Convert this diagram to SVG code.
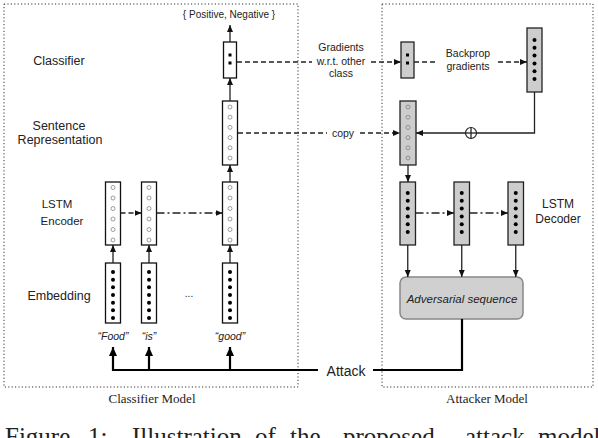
<svg xmlns="http://www.w3.org/2000/svg" width="598" height="438" viewBox="0 0 598 438">
<defs>
<style>
.t{font-family:"Liberation Sans",Arial,sans-serif;fill:#222}
.s{font-family:"Liberation Serif","Times New Roman",serif;fill:#222}
.box{fill:#fff;stroke:#111;stroke-width:1.3}
.gbox{fill:#cdcdcd;stroke:#222;stroke-width:1.3}
.oc{fill:none;stroke:#777;stroke-width:0.7}
.dot{fill:#000}
.ln{fill:none;stroke:#222;stroke-width:1.3}
.thk{fill:none;stroke:#000;stroke-width:2.2}
.dash{stroke-dasharray:5 3}
.dd{stroke-dasharray:8 3 2 3}
.frame{fill:none;stroke:#333;stroke-width:1;stroke-dasharray:1.2 2.2}
</style>
<marker id="ah" viewBox="0 0 7 6" refX="7" refY="3" markerWidth="7" markerHeight="6" markerUnits="userSpaceOnUse" orient="auto"><path d="M0,0 L7,3 L0,6 z" fill="#111"/></marker>
<marker id="ahb" viewBox="0 0 9 8" refX="9" refY="4" markerWidth="9" markerHeight="8" markerUnits="userSpaceOnUse" orient="auto"><path d="M0,0 L9,4 L0,8 z" fill="#000"/></marker>
</defs>
<rect width="598" height="438" fill="#fff"/>

<g id="frames">
<rect class="frame" x="4" y="4" width="294" height="383"/>
<rect class="frame" x="382" y="4" width="211" height="383"/>
<text class="s" x="152" y="403" font-size="13" text-anchor="middle">Classifier Model</text>
<text class="s" x="487" y="403" font-size="13" text-anchor="middle">Attacker Model</text>
</g>

<g id="labels">
<text class="t" x="59" y="65" font-size="12.5" text-anchor="middle">Classifier</text>
<text class="t" x="59" y="130" font-size="12.5" text-anchor="middle">Sentence</text>
<text class="t" x="60" y="144" font-size="12.5" text-anchor="middle">Representation</text>
<text class="t" x="57" y="208" font-size="11.5" text-anchor="middle">LSTM</text>
<text class="t" x="62" y="225" font-size="11.5" text-anchor="middle">Encoder</text>
<text class="t" x="59" y="300" font-size="12.5" text-anchor="middle">Embedding</text>
<text class="t" x="558" y="208" font-size="12" text-anchor="middle">LSTM</text>
<text class="t" x="558" y="223" font-size="12" text-anchor="middle">Decoder</text>
<text class="t" x="229" y="18" font-size="10" text-anchor="middle">{ Positive, Negative }</text>
<text class="t" x="189" y="297" font-size="10" text-anchor="middle" fill="#555">...</text>
<text class="t" x="113" y="340" font-size="10.5" font-style="italic" text-anchor="middle">“Food”</text>
<text class="t" x="149" y="340" font-size="10.5" font-style="italic" text-anchor="middle">“is”</text>
<text class="t" x="230" y="340" font-size="10.5" font-style="italic" text-anchor="middle">“good”</text>
</g>

<g id="classifier">
<rect class="box" x="223.5" y="42" width="13" height="36"/>
<rect class="dot" x="228.5" y="53.5" width="3" height="3"/>
<rect class="dot" x="228.5" y="61.5" width="3" height="3"/>
</g>

<g id="sentence-rep">
<rect class="box" x="222.5" y="101" width="15" height="64"/>
<g class="oc"><circle cx="230" cy="107" r="2"/><circle cx="230" cy="117.2" r="2"/><circle cx="230" cy="127.4" r="2"/><circle cx="230" cy="137.6" r="2"/><circle cx="230" cy="147.8" r="2"/><circle cx="230" cy="158" r="2"/></g>
</g>

<g id="enc1">
<rect class="box" x="105.5" y="182" width="15" height="63"/>
<g class="oc"><circle cx="113" cy="187.5" r="2"/><circle cx="113" cy="198" r="2"/><circle cx="113" cy="208.5" r="2"/><circle cx="113" cy="219" r="2"/><circle cx="113" cy="229.5" r="2"/><circle cx="113" cy="240" r="2"/></g>
</g>
<g id="enc2">
<rect class="box" x="141.5" y="182" width="15" height="63"/>
<g class="oc"><circle cx="149" cy="187.5" r="2"/><circle cx="149" cy="198" r="2"/><circle cx="149" cy="208.5" r="2"/><circle cx="149" cy="219" r="2"/><circle cx="149" cy="229.5" r="2"/><circle cx="149" cy="240" r="2"/></g>
</g>
<g id="enc3">
<rect class="box" x="222.5" y="182" width="15" height="63"/>
<g class="oc"><circle cx="230" cy="187.5" r="2"/><circle cx="230" cy="198" r="2"/><circle cx="230" cy="208.5" r="2"/><circle cx="230" cy="219" r="2"/><circle cx="230" cy="229.5" r="2"/><circle cx="230" cy="240" r="2"/></g>
</g>

<g id="emb1">
<rect class="box" x="105.5" y="263" width="15" height="60"/>
<g class="dot"><circle cx="113" cy="272" r="2"/><circle cx="113" cy="279.7" r="2"/><circle cx="113" cy="287.3" r="2"/><circle cx="113" cy="295" r="2"/><circle cx="113" cy="302.7" r="2"/><circle cx="113" cy="310.3" r="2"/><circle cx="113" cy="318" r="2"/></g>
</g>
<g id="emb2">
<rect class="box" x="141.5" y="263" width="15" height="60"/>
<g class="dot"><circle cx="149" cy="272" r="2"/><circle cx="149" cy="279.7" r="2"/><circle cx="149" cy="287.3" r="2"/><circle cx="149" cy="295" r="2"/><circle cx="149" cy="302.7" r="2"/><circle cx="149" cy="310.3" r="2"/><circle cx="149" cy="318" r="2"/></g>
</g>
<g id="emb3">
<rect class="box" x="222.5" y="263" width="15" height="60"/>
<g class="dot"><circle cx="230" cy="272" r="2"/><circle cx="230" cy="279.7" r="2"/><circle cx="230" cy="287.3" r="2"/><circle cx="230" cy="295" r="2"/><circle cx="230" cy="302.7" r="2"/><circle cx="230" cy="310.3" r="2"/><circle cx="230" cy="318" r="2"/></g>
</g>

<g id="att-grad">
<rect class="gbox" x="401" y="42" width="13" height="36"/>
<rect class="dot" x="406" y="53.5" width="3" height="3"/>
<rect class="dot" x="406" y="61.5" width="3" height="3"/>
</g>

<g id="att-backprop">
<rect class="gbox" x="527" y="28" width="15" height="64"/>
<g class="dot"><circle cx="534.5" cy="40" r="2"/><circle cx="534.5" cy="47.8" r="2"/><circle cx="534.5" cy="55.6" r="2"/><circle cx="534.5" cy="63.4" r="2"/><circle cx="534.5" cy="71.2" r="2"/><circle cx="534.5" cy="79" r="2"/></g>
</g>

<g id="att-copy">
<rect class="gbox" x="400" y="101" width="16" height="64"/>
<g class="oc"><circle cx="408" cy="107" r="2"/><circle cx="408" cy="117.2" r="2"/><circle cx="408" cy="127.4" r="2"/><circle cx="408" cy="137.6" r="2"/><circle cx="408" cy="147.8" r="2"/><circle cx="408" cy="158" r="2"/></g>
</g>

<g id="dec1">
<rect class="gbox" x="400" y="182" width="15.5" height="63"/>
<g class="dot"><circle cx="407.75" cy="193" r="2"/><circle cx="407.75" cy="200.8" r="2"/><circle cx="407.75" cy="208.6" r="2"/><circle cx="407.75" cy="216.4" r="2"/><circle cx="407.75" cy="224.2" r="2"/><circle cx="407.75" cy="232" r="2"/></g>
</g>
<g id="dec2">
<rect class="gbox" x="454" y="182" width="15.5" height="63"/>
<g class="dot"><circle cx="461.75" cy="193" r="2"/><circle cx="461.75" cy="200.8" r="2"/><circle cx="461.75" cy="208.6" r="2"/><circle cx="461.75" cy="216.4" r="2"/><circle cx="461.75" cy="224.2" r="2"/><circle cx="461.75" cy="232" r="2"/></g>
</g>
<g id="dec3">
<rect class="gbox" x="508" y="182" width="15.5" height="63"/>
<g class="dot"><circle cx="515.75" cy="193" r="2"/><circle cx="515.75" cy="200.8" r="2"/><circle cx="515.75" cy="208.6" r="2"/><circle cx="515.75" cy="216.4" r="2"/><circle cx="515.75" cy="224.2" r="2"/><circle cx="515.75" cy="232" r="2"/></g>
</g>

<g id="adversarial">
<rect x="400" y="277" width="123" height="42" rx="6" fill="#d0d0d0" stroke="#888" stroke-width="1.5"/>
<text class="t" x="462" y="303" font-size="11.5" font-style="italic" text-anchor="middle">Adversarial sequence</text>
</g>

<g id="connectors">
<line class="ln" x1="230" y1="42" x2="230" y2="25" marker-end="url(#ah)"/>
<line class="ln" x1="230" y1="101" x2="230" y2="78" marker-end="url(#ah)"/>
<line class="ln" x1="230" y1="182" x2="230" y2="165" marker-end="url(#ah)"/>
<line class="ln" x1="113" y1="263" x2="113" y2="245" marker-end="url(#ah)"/>
<line class="ln" x1="149" y1="263" x2="149" y2="245" marker-end="url(#ah)"/>
<line class="ln" x1="230" y1="263" x2="230" y2="245" marker-end="url(#ah)"/>
<line class="ln dash" x1="120.5" y1="213" x2="141.5" y2="213" marker-end="url(#ah)"/>
<line class="ln dd" x1="156.5" y1="213" x2="222.5" y2="213" marker-end="url(#ah)"/>

<line class="ln dash" x1="237" y1="62" x2="312" y2="62"/>
<line class="ln dash" x1="371" y1="62" x2="401" y2="62" marker-end="url(#ah)"/>
<line class="ln dash" x1="238" y1="133" x2="327" y2="133"/>
<line class="ln dash" x1="360" y1="133" x2="400" y2="133" marker-end="url(#ah)"/>
<line class="ln dash" x1="414" y1="62" x2="438" y2="62"/>
<line class="ln dash" x1="498" y1="62" x2="527" y2="62" marker-end="url(#ah)"/>
<text class="t" x="341" y="51" font-size="10.5" text-anchor="middle">Gradients</text>
<text class="t" x="341" y="65" font-size="10.5" text-anchor="middle">w.r.t. other</text>
<text class="t" x="341" y="77" font-size="10.5" text-anchor="middle">class</text>
<text class="t" x="343" y="137" font-size="10.5" text-anchor="middle">copy</text>
<text class="t" x="468" y="57" font-size="10.5" text-anchor="middle">Backprop</text>
<text class="t" x="468" y="70" font-size="10.5" text-anchor="middle">gradients</text>

<polyline class="ln" points="534.5,92 534.5,133 416,133" marker-end="url(#ah)"/>
<circle cx="471" cy="133" r="5.5" fill="#fff" stroke="#222" stroke-width="1.2"/>
<line class="ln" x1="465.5" y1="133" x2="476.5" y2="133" stroke-width="1.1"/>
<line class="ln" x1="471" y1="127.5" x2="471" y2="138.5" stroke-width="1.1"/>

<line class="ln" x1="408" y1="165" x2="408" y2="182" marker-end="url(#ah)"/>
<line class="ln dd" x1="415.5" y1="213" x2="454" y2="213" marker-end="url(#ah)"/>
<line class="ln dd" x1="469.5" y1="213" x2="508" y2="213" marker-end="url(#ah)"/>
<line class="ln" x1="407.75" y1="245" x2="407.75" y2="277" marker-end="url(#ah)"/>
<line class="ln" x1="461.75" y1="245" x2="461.75" y2="277" marker-end="url(#ah)"/>
<line class="ln" x1="515.75" y1="245" x2="515.75" y2="277" marker-end="url(#ah)"/>

<polyline class="thk" points="462,319 462,370 373,370"/>
<polyline class="thk" points="318,370 113,370 113,347" marker-end="url(#ahb)"/>
<line class="thk" x1="149" y1="370" x2="149" y2="347" marker-end="url(#ahb)"/>
<line class="thk" x1="230" y1="370" x2="230" y2="347" marker-end="url(#ahb)"/>
<text class="t" x="346" y="376" font-size="14" text-anchor="middle" fill="#000">Attack</text>
</g>

<text class="s" y="445" font-size="25" fill="#111"><tspan x="5">Figure</tspan><tspan x="88">1:</tspan><tspan x="132">Illustration</tspan><tspan x="255">of</tspan><tspan x="290">the</tspan><tspan x="343">proposed</tspan><tspan x="465">attack</tspan><tspan x="538">model</tspan></text>
</svg>
